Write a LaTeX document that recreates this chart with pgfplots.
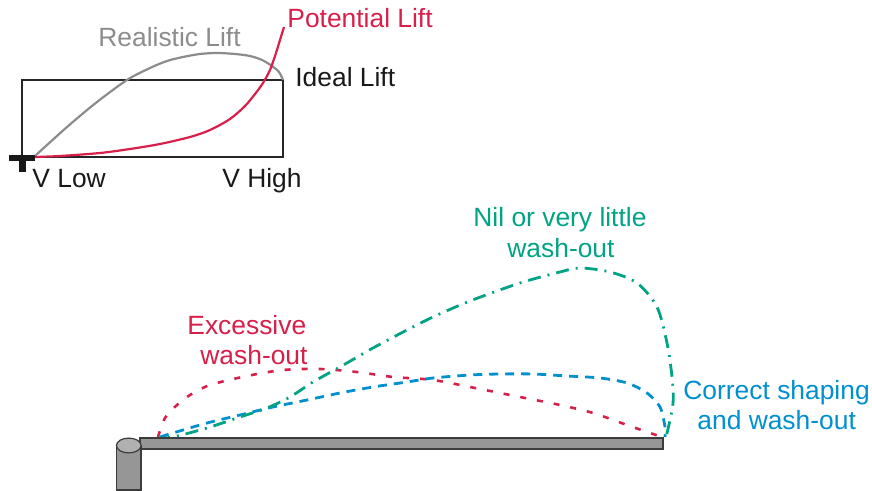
\documentclass[border=0pt]{standalone}
\usepackage{pgfplots}
\pgfplotsset{compat=1.18}
\usepackage{fontspec}
\setmainfont{Liberation Sans}
\definecolor{liftred}{HTML}{D81F4A}
\definecolor{liftgray}{HTML}{8C8C8C}
\definecolor{nilgreen}{HTML}{00A383}
\definecolor{corrblue}{HTML}{0090D0}
\definecolor{bargray}{HTML}{969696}
\definecolor{cyltop}{HTML}{B0B0B0}
\definecolor{edge}{HTML}{3C3C3C}
\tikzset{lbl/.style={font=\fontsize{13.2}{15}\selectfont, inner sep=0pt, anchor=base west}}
\begin{document}
\begin{tikzpicture}
\begin{axis}[width=436pt,height=245pt,scale only axis,
  xmin=0,xmax=872,ymin=0,ymax=490,y dir=reverse,
  hide axis,clip=false]
\path (rel axis cs:0,0) rectangle (rel axis cs:1,1);
% Ideal lift rectangle
\addplot[black!85, line width=0.9pt, no marks] coordinates {(22,80)(283,80)(283,157)(22,157)} -- cycle;
% realistic lift
\addplot[liftgray, line width=1.1pt, no marks, smooth] coordinates {(35,156)(67,127)(97,102)(127,80)(150,68)(167,61)(183,57)(200,54)(217,53)(235,54)(250,56)(262,60)(272,66)(279,72)(283,80)};
% potential lift
\addplot[liftred, line width=1.1pt, no marks, smooth] coordinates {(35,157)(60,156)(100,153)(130,149)(160,144)(190,137)(210,130)(230,119)(245,106)(255,94)(263,83)(270,70)(276,53)(280,40)(284,27)};
% origin cross
\addplot[black!90, line width=2.6pt, no marks] coordinates {(9,158)(35,158)};
\addplot[black!90, line width=3.4pt, no marks] coordinates {(22.5,156)(22.5,172)};
% labels top
\node[lbl, text=liftred] at (axis cs:287,28) {Potential Lift};
\node[lbl, text=liftgray] at (axis cs:98,47) {Realistic Lift};
\node[lbl, text=black!90] at (axis cs:295,87) {Ideal Lift};
\node[lbl, text=black!90] at (axis cs:32,188) {V Low};
\node[lbl, text=black!90] at (axis cs:222,188) {V High};
% excessive wash-out
\addplot[liftred, line width=1.3pt, no marks, smooth, dash pattern=on 3pt off 5.5pt] coordinates {(158,437)(165,418)(177,405)(190,395)(210,385)(247,376)(283,370)(320,369)(357,372)(393,377)(433,380)(480,389)(520,397)(560,405)(593,413)(627,425)(650,433)(662,437)};
% correct shaping
\addplot[corrblue, line width=1.4pt, no marks, smooth, dash pattern=on 4.5pt off 3.5pt] coordinates {(160,437)(173,433)(207,423)(240,415)(273,407)(307,400)(340,393)(373,387)(407,382)(433,378)(470,375)(500,374)(533,374)(567,376)(600,378)(627,383)(647,393)(660,407)(665,427)(665,437)};
% nil wash-out
\addplot[nilgreen, line width=1.4pt, no marks, smooth, dash pattern=on 6.5pt off 3.5pt on 1pt off 3.5pt] coordinates {(157,438)(173,437)(207,428)(240,417)(267,408)(290,397)(313,382)(340,367)(373,348)(407,330)(433,317)(470,301)(520,283)(560,272)(580,268)(610,272)(637,283)(657,307)(667,343)(672,377)(673,403)(667,433)(664,438)};
% wing bar
\addplot[fill=bargray, draw=edge, line width=0.6pt, no marks] coordinates {(140,438)(663,438)(663,449)(140,449)} -- cycle;
% cylinder
\addplot[fill=bargray, draw=edge, line width=0.6pt, no marks] coordinates {(116.5,445.5)(116.5,490)(141,490)(141,445.5)};
\draw[fill=cyltop, draw=edge, line width=0.6pt] (axis cs:128.75,445.5) ellipse [x radius=6.15pt, y radius=3.7pt];
% labels bottom
\node[lbl, text=nilgreen] at (axis cs:473,227) {Nil or very little};
\node[lbl, text=nilgreen] at (axis cs:507,258) {wash-out};
\node[lbl, text=liftred] at (axis cs:187,335) {Excessive};
\node[lbl, text=liftred] at (axis cs:200,365) {wash-out};
\node[lbl, text=corrblue] at (axis cs:683,400) {Correct shaping};
\node[lbl, text=corrblue] at (axis cs:697,430) {and wash-out};
\end{axis}
\end{tikzpicture}
\end{document}
